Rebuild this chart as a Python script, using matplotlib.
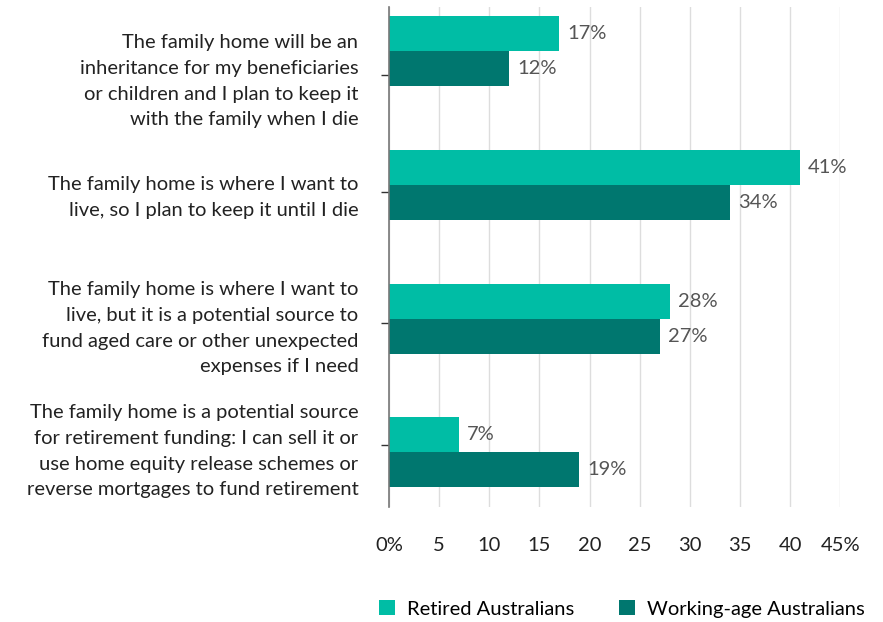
import numpy as np
import matplotlib.pyplot as plt

plt.rcParams['font.family'] = ['Lato', 'DejaVu Sans']

statements = [
    "The family home will be an\ninheritance for my beneficiaries\nor children and I plan to keep it\nwith the family when I die",
    "The family home is where I want to\nlive, so I plan to keep it until I die",
    "The family home is where I want to\nlive, but it is a potential source to\nfund aged care or other unexpected\nexpenses if I need",
    "The family home is a potential source\nfor retirement funding: I can sell it or\nuse home equity release schemes or\nreverse mortgages to fund retirement",
]
retired = [17, 41, 28, 7]
working_age = [12, 34, 27, 19]
xticks = [0, 5, 10, 15, 20, 25, 30, 35, 40, 45]
xtick_labels = ["0%", "5", "10", "15", "20", "25", "30", "35", "40", "45%"]

light = "#00bda5"
dark = "#00776f"

fig = plt.figure(figsize=(8.83, 6.22), dpi=100)
ax = fig.add_axes([0.4405, 0.185, 0.511, 0.804])

y = np.arange(len(statements))
h = 0.262
ax.barh(y - h / 2, retired, height=h, color=light, label="Retired Australians", zorder=3)
ax.barh(y + h / 2, working_age, height=h, color=dark, label="Working-age Australians", zorder=3)

for yi, v in zip(y - h / 2, retired):
    ax.text(v + 0.8, yi, f"{v}%", va="center", ha="left", fontsize=14.5, color="#555555")
for yi, v in zip(y + h / 2, working_age):
    ax.text(v + 0.8, yi, f"{v}%", va="center", ha="left", fontsize=14.5, color="#555555")

# category labels sit a little off the group centres
label_offset = [0.18, 0.05, 0.03, -0.05]
ax.set_yticks(y + np.array(label_offset))
ax.set_yticklabels(statements, fontsize=14.5, color="#222222", linespacing=1.62, ha="right")
ax.tick_params(axis="y", length=6, width=1, color="#333333", pad=16)

ax.set_xlim(0, 45)
ax.set_ylim(3.41, -0.333)
ax.set_xticks(xticks)
ax.set_xticklabels(xtick_labels, fontsize=14.5, color="#222222")
ax.tick_params(axis="x", length=0, pad=22)

ax.grid(axis="x", color="#dddddd", linewidth=1, zorder=0)
for s in ["top", "right", "bottom"]:
    ax.spines[s].set_visible(False)
ax.spines["left"].set_color("#777777")
ax.spines["left"].set_linewidth(1.2)
ax.spines["left"].set_zorder(4)

fig.legend(loc="lower right", bbox_to_anchor=(1.0, -0.022), ncol=2, frameon=False,
           fontsize=14.5, handlelength=0.8, handleheight=0.8, handletextpad=0.6,
           columnspacing=2.2)

fig.savefig("out.png", dpi=100)
